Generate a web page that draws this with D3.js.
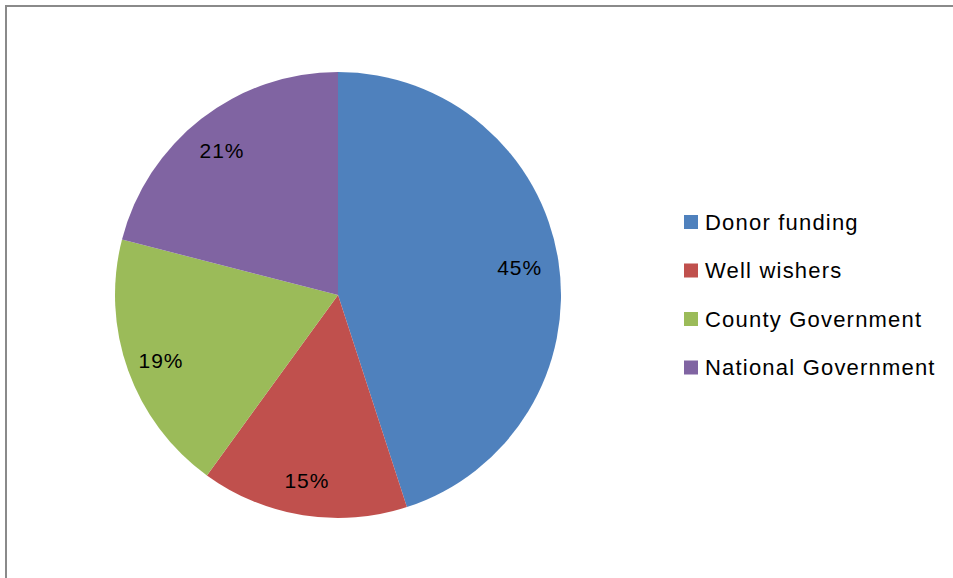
<!DOCTYPE html>
<html>
<head>
<meta charset="utf-8">
<script src="https://cdn.jsdelivr.net/npm/d3@7"></script>
<style>
  html, body { margin: 0; padding: 0; background: #fff; overflow: hidden; }
  svg { display: block; }
  text { font-family: "Liberation Sans", Arial, sans-serif; fill: #000; }
</style>
</head>
<body>
<svg id="chart" width="953" height="578"></svg>
<script>
const categories = ["Donor funding", "Well wishers", "County Government", "National Government"];
const values = [45, 15, 19, 21];
const colors = ["#4F81BD", "#C0504D", "#9BBB59", "#8064A2"];

const svg = d3.select("#chart");
const W = 953, H = 578;

// outer frame (only top & left visible)
svg.append("rect")
  .attr("x", 6).attr("y", 6)
  .attr("width", W + 10).attr("height", H + 10)
  .attr("fill", "#fff")
  .attr("stroke", "#8a8a8a")
  .attr("stroke-width", 2);

const cx = 338, cy = 295, R = 223;
const data = categories.map((c, i) => ({ name: c, value: values[i], color: colors[i] }));

const pie = d3.pie().value(d => d.value).sort(null);
const arcs = pie(data);
const arc = d3.arc().innerRadius(0).outerRadius(R);
const labelArc = d3.arc().innerRadius(186).outerRadius(186);

const g = svg.append("g").attr("transform", `translate(${cx},${cy})`);
g.selectAll("path.slice")
  .data(arcs)
  .join("path")
  .attr("class", "slice")
  .attr("d", arc)
  .attr("fill", d => d.data.color);

const fmt = d3.format(".0f");
g.selectAll("text.lbl")
  .data(arcs)
  .join("text")
  .attr("class", "lbl")
  .attr("transform", d => { const [x, y] = labelArc.centroid(d); return `translate(${x - 2},${y + 2})`; })
  .attr("text-anchor", "middle")
  .attr("dominant-baseline", "central")
  .style("font-size", "21px")
  .style("letter-spacing", "1px")
  .text(d => fmt(d.data.value) + "%");

// legend
const legend = svg.append("g").attr("transform", "translate(684,215)");
const item = legend.selectAll("g.item")
  .data(data)
  .join("g")
  .attr("class", "item")
  .attr("transform", (d, i) => `translate(0,${i * 48.5})`);
item.append("rect")
  .attr("width", 14).attr("height", 14)
  .attr("fill", d => d.color);
item.append("text")
  .attr("x", 21).attr("y", 7)
  .attr("dominant-baseline", "central")
  .style("font-size", "22px")
  .style("letter-spacing", "1.2px")
  .text(d => d.name);
</script>
</body>
</html>
